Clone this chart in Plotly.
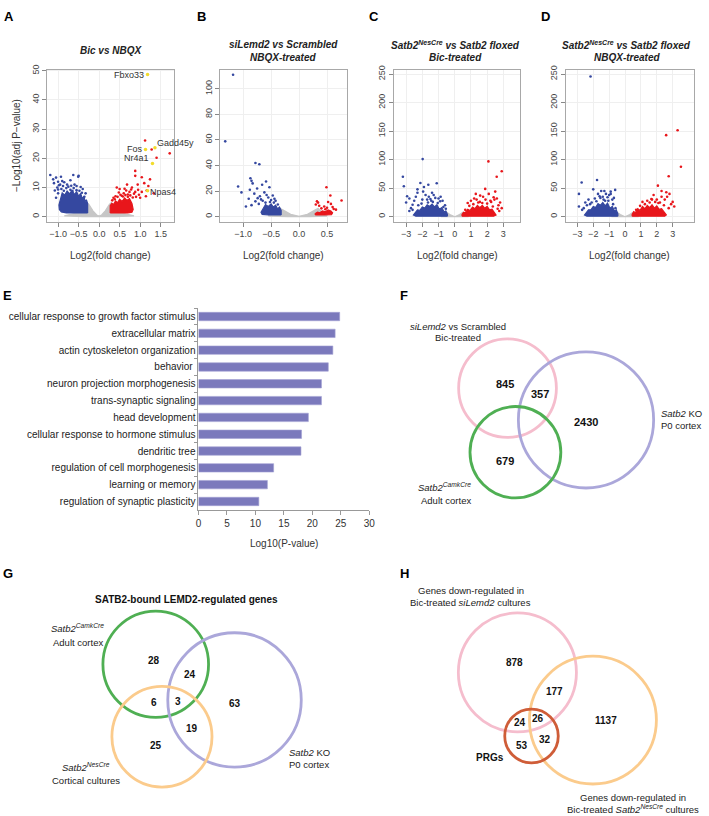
import plotly.graph_objects as go

W, H = 709, 816
FONT = "Liberation Sans, Arial, sans-serif"
BLUE = "#3548A0"
RED = "#E8161B"
GRAY = "#C6C6C6"
YELLOW = "#F2DC2C"

# ---------------- Panel A : Bic vs NBQX ----------------
A_GRAY_CLOUD_FC = [-0.85, -0.5, -0.3, -0.25, -0.15, -0.06, 0.0, 0.06, 0.15, 0.25, 0.3, 0.5, 0.85, 0.4, -0.4]
A_GRAY_CLOUD_P = [0.3, 1.4, 4.8, 4.2, 2.0, 0.6, 0.2, 0.6, 2.0, 4.2, 4.8, 1.4, 0.3, 0.0, 0.0]
A_BLUE_CLOUD_FC = [-0.28, -0.28, -0.31, -0.34, -0.37, -0.41, -0.45, -0.5, -0.55, -0.6, -0.66, -0.72, -0.78,
                   -0.84, -0.9, -0.95, -0.98, -0.97, -0.92, -0.8, -0.6, -0.4]
A_BLUE_CLOUD_P = [1.3, 4.5, 5.8, 5.2, 7.0, 6.2, 8.0, 7.0, 8.6, 7.6, 9.0, 7.8, 8.8, 7.4, 8.2, 6.0, 4.0, 2.5,
                  1.6, 1.3, 1.3, 1.3]
A_RED_CLOUD_FC = [0.27, 0.27, 0.31, 0.35, 0.4, 0.45, 0.5, 0.56, 0.62, 0.68, 0.74, 0.8, 0.83, 0.8, 0.7, 0.5]
A_RED_CLOUD_P = [1.3, 3.8, 4.6, 4.2, 5.4, 4.8, 6.0, 5.2, 6.4, 5.6, 6.2, 4.5, 2.5, 1.5, 1.3, 1.3]
A_BLUE_FC = [-1.19, -1.05, -0.93, -1.0, -1.1, -0.95, -0.85, -0.63, -0.51, -0.5, -0.7, -0.78, -0.6,
             -0.55, -0.45, -1.02, -0.88, -0.68, -1.08, -1.0, -1.05, -0.4, -0.33, -0.98,
             -0.92, -0.8, -0.7, -0.62, -0.55, -0.48, -0.42, -0.36, -1.0, -0.86, -0.75, -0.65, -0.9, -1.12]
A_BLUE_P = [14.3, 13.4, 13.7, 12.0, 11.5, 11.0, 11.8, 14.3, 13.7, 14.0, 12.5, 11.0, 11.0,
            10.5, 10.2, 10.0, 10.5, 10.6, 9.0, 8.0, 6.5, 9.5, 8.0, 10.8,
            9.5, 9.8, 9.2, 9.8, 9.1, 8.9, 8.2, 6.8, 9.3, 8.9, 10.3, 8.8, 12.2, 12.8]
A_RED_FC = [1.12, 1.72, 1.40, 1.28, 0.88, 1.04, 0.88, 0.80, 0.43, 0.50, 1.16, 1.33, 1.04, 0.74, 0.66,
            1.14, 0.97, 0.6, 0.55, 0.7, 0.9, 1.0, 0.85, 0.4, 0.35, 1.2, 0.95,
            0.45, 0.52, 0.58, 0.64, 0.70, 0.76, 0.82, 0.88, 0.32, 0.38, 0.48, 0.62, 0.78, 0.94, 1.1,
            1.24, 0.68]
A_RED_P = [26.1, 21.7, 20.2, 23.0, 15.7, 13.5, 14.0, 10.0, 10.0, 9.5, 9.0, 8.0, 8.5, 8.5, 9.0,
           7.0, 7.5, 8.0, 7.2, 7.6, 6.8, 6.5, 7.9, 7.0, 6.5, 10.5, 9.2,
           6.8, 7.5, 6.9, 7.4, 6.8, 7.3, 6.6, 8.5, 5.6, 6.0, 8.3, 9.6, 9.3, 11.0, 11.5, 12.8, 11.0]
A_GENES = ["Fbxo33", "Fos", "Gadd45y", "Nr4a1", "Npas4"]
A_GENE_FC = [1.18, 1.13, 1.36, 1.30, 1.18]
A_GENE_P = [48.7, 23.0, 23.6, 18.2, 8.9]

# ---------------- Panel B : siLemd2 vs Scrambled, NBQX ----------------
B_GRAY_CLOUD_FC = [-0.55, -0.36, -0.3, -0.15, 0.0, 0.15, 0.3, 0.34, 0.5, 0.2, -0.2]
B_GRAY_CLOUD_P = [0.5, 7.0, 5.5, 1.8, 0.3, 1.8, 5.5, 6.5, 0.5, 0.0, 0.0]
B_BLUE_CLOUD_FC = [-0.32, -0.32, -0.35, -0.38, -0.42, -0.46, -0.5, -0.55, -0.6, -0.65, -0.68, -0.66, -0.55]
B_BLUE_CLOUD_P = [1.3, 5.0, 7.5, 6.0, 9.0, 7.5, 10.0, 8.0, 9.5, 6.0, 3.5, 1.8, 1.3]
B_RED_CLOUD_FC = [0.29, 0.29, 0.33, 0.37, 0.42, 0.47, 0.52, 0.57, 0.6, 0.58, 0.45]
B_RED_CLOUD_P = [1.3, 2.5, 3.6, 3.0, 4.5, 3.8, 5.2, 4.5, 3.0, 1.5, 1.3]
B_BLUE_FC = [-1.18, -1.32, -0.78, -0.71, -0.87, -0.85, -0.83, -1.09, -1.03, -0.59, -0.53, -0.75, -0.8,
             -0.7, -0.62, -0.55, -0.9, -0.78, -0.65, -0.5, -0.45, -0.72, -0.85, -0.95, -0.58, -0.66,
             -0.88, -0.47, -0.42, -0.38, -0.52, -0.6, -0.68, -0.74, -0.44]
B_BLUE_P = [111, 58.9, 42, 41, 30, 28, 26, 23.6, 19, 27.5, 23, 22, 18, 16, 19, 15, 14, 12, 12.5, 13, 11,
            10, 9, 8, 17, 25, 21, 16.5, 12.5, 9.5, 11.5, 11.0, 13.5, 14.5, 14.0]
B_RED_FC = [0.49, 0.56, 0.76, 0.57, 0.32, 0.34, 0.45, 0.5, 0.6, 0.4, 0.62, 0.36, 0.52, 0.66, 0.3, 0.47]
B_RED_P = [23, 16.6, 12.7, 10, 12, 11, 8, 7, 7.5, 6.5, 6, 8.5, 11.5, 5.5, 9.5, 5.8]

# ---------------- Panel C : Satb2 NesCre vs floxed, Bic ----------------
C_GRAY_CLOUD_FC = [-0.85, -0.5, -0.3, 0.0, 0.3, 0.5, 0.85]
C_GRAY_CLOUD_P = [0.0, 8.0, 4.0, 0.0, 4.0, 8.0, 0.0]
C_BLUE_CLOUD_FC = [-0.45, -0.45, -0.55, -0.65, -0.8, -0.95, -1.1, -1.25, -1.4, -1.55, -1.7, -1.85, -2.0,
                   -2.15, -2.3, -2.45, -2.55, -2.4, -1.6, -0.8]
C_BLUE_CLOUD_P = [1, 4, 10, 8, 16, 13, 21, 17, 22, 18, 21, 15, 17, 11, 12, 6, 3, 1, 0.5, 0.5]
C_RED_CLOUD_FC = [0.45, 0.45, 0.55, 0.65, 0.8, 0.95, 1.1, 1.25, 1.4, 1.55, 1.7, 1.85, 2.0, 2.15, 2.3, 2.45,
                  2.55, 2.4, 1.6, 0.8]
C_RED_CLOUD_P = [1, 4, 8, 7, 13, 11, 17, 14, 20, 16, 20, 15, 18, 12, 13, 7, 3, 1, 0.5, 0.5]
C_BLUE_FC = [-1.98, -3.2, -3.14, -2.12, -1.63, -1.11, -1.9, -2.3, -2.94, -2.8, -3.0, -2.6, -2.3, -1.4,
             -1.3, -0.87, -1.95, -1.6, -1.0, -0.75, -2.0, -2.5, -1.7, -1.2, -2.7, -2.8, -0.6, -0.9,
             -2.4, -1.8, -1.5, -1.05, -1.35, -1.65, -2.05, -2.25, -0.7, -0.55, -2.6, -1.45]
C_BLUE_P = [101, 70, 53.5, 59, 56, 58.7, 52, 48, 36, 32, 25, 21, 42, 42, 38, 35, 44, 35, 32, 28, 30, 28,
            30, 33, 15, 10, 20, 27, 35, 38, 31, 24, 26, 25, 23, 20, 17, 14, 12, 28]
C_RED_FC = [2.08, 2.9, 2.59, 1.88, 2.5, 1.57, 1.3, 2.4, 2.7, 2.25, 1.55, 2.1, 1.9, 1.0, 2.2, 2.6, 1.2,
            0.8, 2.8, 2.45, 1.75, 2.9, 0.9, 1.15, 1.45, 1.7, 2.0, 2.35, 2.65, 0.65, 1.35, 2.75]
C_RED_P = [97, 79.6, 70, 48.8, 44, 37, 40, 34, 20, 26, 26, 40, 30, 28, 28, 32, 32, 24, 25, 30, 35, 15,
           19, 22, 25, 24, 23, 18, 14, 12, 30, 10]

# ---------------- Panel D : Satb2 NesCre vs floxed, NBQX ----------------
D_GRAY_CLOUD_FC = [-0.85, -0.5, -0.3, 0.0, 0.3, 0.5, 0.85]
D_GRAY_CLOUD_P = [0.0, 8.0, 4.0, 0.0, 4.0, 8.0, 0.0]
D_BLUE_CLOUD_FC = [-0.45, -0.45, -0.55, -0.65, -0.8, -0.95, -1.1, -1.25, -1.4, -1.55, -1.7, -1.85, -2.0,
                   -2.15, -2.3, -2.45, -2.55, -2.4, -1.6, -0.8]
D_BLUE_CLOUD_P = [1, 5, 12, 9, 18, 15, 24, 19, 25, 20, 23, 16, 18, 12, 12, 6, 3, 1, 0.5, 0.5]
D_RED_CLOUD_FC = [0.45, 0.45, 0.55, 0.65, 0.8, 0.95, 1.1, 1.25, 1.4, 1.55, 1.7, 1.85, 2.0, 2.15, 2.3, 2.45,
                  2.6, 2.5, 1.6, 0.8]
D_RED_CLOUD_P = [1, 4, 9, 7, 14, 11, 18, 14, 20, 16, 21, 15, 19, 13, 14, 8, 3, 1, 0.5, 0.5]
D_BLUE_FC = [-2.17, -2.73, -2.9, -1.76, -2.0, -1.3, -0.9, -0.7, -2.9, -2.2, -2.5, -0.62, -1.2, -1.5,
             -1.0, -1.6, -1.1, -0.8, -1.9, -2.3, -1.4, -0.9, -2.6, -1.7, -1.25, -0.6, -0.75, -1.05,
             -1.35, -1.8, -2.1, -2.4, -2.7, -1.55]
D_BLUE_P = [246, 60, 40, 64.5, 48, 45, 40, 33, 18, 22, 25, 47, 40, 45, 38, 36, 34, 30, 32, 30, 35, 44,
            15, 40, 28, 15, 22, 28, 30, 27, 25, 20, 12, 33]
D_RED_FC = [2.59, 3.31, 3.52, 2.75, 2.07, 2.6, 2.8, 2.3, 1.66, 3.0, 2.3, 2.0, 1.8, 2.5, 1.4, 2.2, 2.9,
            1.1, 1.9, 2.65, 0.7, 0.95, 1.25, 1.55, 2.1, 2.45, 2.75, 1.7, 3.1]
D_RED_P = [143, 151.6, 87.6, 71, 54.5, 43, 40, 45, 31, 26, 35, 30, 38, 30, 28, 25, 22, 26, 26, 35,
           12, 19, 22, 25, 24, 20, 15, 30, 18]

# ---------------- Panel E : GO terms ----------------
GO_TERMS = ["cellular response to growth factor stimulus", "extracellular matrix",
            "actin cytoskeleton organization", "behavior ", "neuron projection morphogenesis",
            "trans-synaptic signaling", "head development", "cellular response to hormone stimulus",
            "dendritic tree", "regulation of cell morphogenesis", "learning or memory",
            "regulation of synaptic plasticity"]
GO_LOGP = [24.8, 24.0, 23.6, 22.8, 21.6, 21.6, 19.3, 18.1, 18.0, 13.2, 12.1, 10.6]
GO_TICKS = [0, 5, 10, 15, 20, 25, 30]

# ---------------- Venn counts ----------------
F_COUNTS = [845, 357, 2430, 679]
G_COUNTS = [28, 24, 6, 3, 63, 19, 25]
H_COUNTS = [878, 177, 1137, 24, 26, 53, 32]

fig = go.Figure()
annotations = []
shapes = []


def px(x):
    return x / W


def py(y):
    return 1 - y / H


def note(x, y, text, size=9.5, color="#222", xanchor="center", angle=0, ref=None):
    d = dict(text=text, showarrow=False, font=dict(family=FONT, size=size, color=color),
             xanchor=xanchor, yanchor="middle", textangle=angle, borderpad=0)
    if ref is None:
        d.update(x=px(x), y=py(y), xref="paper", yref="paper")
    else:
        d.update(x=x, y=y, xref=ref[0], yref=ref[1])
    annotations.append(d)


PLOT_TOP, PLOT_BOT = 65, 218
panels = [
    dict(i=1, l=45, r=173, xr=[-1.26, 1.82], yr=[-1.7, 50.4],
         xt=[-1.0, -0.5, 0.0, 0.5, 1.0, 1.5], xtt=["\u22121.0", "\u22120.5", "0.0", "0.5", "1.0", "1.5"],
         yt=[0, 10, 20, 30, 40, 50],
         gray=(A_GRAY_CLOUD_FC, A_GRAY_CLOUD_P), bc=(A_BLUE_CLOUD_FC, A_BLUE_CLOUD_P),
         rc=(A_RED_CLOUD_FC, A_RED_CLOUD_P), bp=(A_BLUE_FC, A_BLUE_P), rp=(A_RED_FC, A_RED_P)),
    dict(i=2, l=220, r=348, xr=[-1.41, 0.85], yr=[-3.9, 115],
         xt=[-1.0, -0.5, 0.0, 0.5], xtt=["\u22121.0", "\u22120.5", "0.0", "0.5"],
         yt=[0, 20, 40, 60, 80, 100],
         gray=(B_GRAY_CLOUD_FC, B_GRAY_CLOUD_P), bc=(B_BLUE_CLOUD_FC, B_BLUE_CLOUD_P),
         rc=(B_RED_CLOUD_FC, B_RED_CLOUD_P), bp=(B_BLUE_FC, B_BLUE_P), rp=(B_RED_FC, B_RED_P)),
    dict(i=3, l=396, r=524, xr=[-3.75, 4.05], yr=[-8.7, 258],
         xt=[-3, -2, -1, 0, 1, 2, 3], xtt=["\u22123", "\u22122", "\u22121", "0", "1", "2", "3"],
         yt=[0, 50, 100, 150, 200, 250],
         gray=(C_GRAY_CLOUD_FC, C_GRAY_CLOUD_P), bc=(C_BLUE_CLOUD_FC, C_BLUE_CLOUD_P),
         rc=(C_RED_CLOUD_FC, C_RED_CLOUD_P), bp=(C_BLUE_FC, C_BLUE_P), rp=(C_RED_FC, C_RED_P)),
    dict(i=4, l=570, r=700, xr=[-3.73, 4.35], yr=[-8.7, 258],
         xt=[-3, -2, -1, 0, 1, 2, 3], xtt=["\u22123", "\u22122", "\u22121", "0", "1", "2", "3"],
         yt=[0, 50, 100, 150, 200, 250],
         gray=(D_GRAY_CLOUD_FC, D_GRAY_CLOUD_P), bc=(D_BLUE_CLOUD_FC, D_BLUE_CLOUD_P),
         rc=(D_RED_CLOUD_FC, D_RED_CLOUD_P), bp=(D_BLUE_FC, D_BLUE_P), rp=(D_RED_FC, D_RED_P)),
]

for p in panels:
    i = p["i"]
    xa = "x" if i == 1 else f"x{i}"
    ya = "y" if i == 1 else f"y{i}"
    for key, col in (("gray", GRAY), ("bc", BLUE), ("rc", RED)):
        xs, ys = p[key]
        fig.add_trace(go.Scatter(x=list(xs) + [xs[0]], y=list(ys) + [ys[0]], mode="lines", fill="toself",
                                 fillcolor=col, line=dict(color=col, width=1.2), xaxis=xa, yaxis=ya,
                                 hoverinfo="skip", showlegend=False))
    for key, col in (("bp", BLUE), ("rp", RED)):
        xs, ys = p[key]
        fig.add_trace(go.Scatter(x=xs, y=ys, mode="markers", marker=dict(color=col, size=2.6),
                                 xaxis=xa, yaxis=ya, showlegend=False))
    axcommon = dict(showline=True, mirror=True, linecolor="#A8A8A8", linewidth=1, ticks="outside",
                    ticklen=4, tickcolor="#888", showgrid=True, gridcolor="#EFEFEF", zeroline=False,
                    tickfont=dict(family=FONT, size=9, color="#444"))
    fig.update_layout(**{
        ("xaxis" if i == 1 else f"xaxis{i}"): dict(domain=[px(p["l"]), px(p["r"])], range=p["xr"],
                                                  tickvals=p["xt"], ticktext=p["xtt"], anchor=ya, **axcommon),
        ("yaxis" if i == 1 else f"yaxis{i}"): dict(domain=[py(PLOT_BOT), py(PLOT_TOP)], range=p["yr"],
                                                  tickvals=p["yt"], tickangle=-90, anchor=xa, **axcommon),
    })

# yellow genes panel A
fig.add_trace(go.Scatter(x=A_GENE_FC, y=A_GENE_P, mode="markers", marker=dict(color=YELLOW, size=3.5),
                         xaxis="x", yaxis="y", showlegend=False))
label_pos = {"Fbxo33": (-0.05, 0, "right"), "Fos": (-0.03, 0.2, "right"), "Gadd45y": (0.02, 1.6, "left"),
             "Nr4a1": (-0.05, 1.8, "right"), "Npas4": (0.03, -0.3, "left")}
for g, fc, pv in zip(A_GENES, A_GENE_FC, A_GENE_P):
    dx, dy, anc = label_pos[g]
    note(fc + dx, pv + dy, g, size=9, color="#333", xanchor=anc, ref=("x", "y"))

# volcano titles
note(109, 46, "<b><i>Bic vs NBQX</i></b>", size=10)
note(284, 40, "<b><i>siLemd2 vs Scrambled</i></b>", size=10)
note(284, 53, "<b><i>NBQX-treated</i></b>", size=10)
note(458, 40, "<b><i>Satb2<sup>NesCre</sup> vs Satb2 floxed</i></b>", size=10)
note(458, 53, "<b><i>Bic-treated</i></b>", size=10)
note(632, 40, "<b><i>Satb2<sup>NesCre</sup> vs Satb2 floxed</i></b>", size=10)
note(632, 53, "<b><i>NBQX-treated</i></b>", size=10)
for cx in (109, 284, 460, 635):
    note(cx, 252, "Log2(fold change)", size=10, color="#333")
note(13, 141, "\u2212Log10(adj P\u2212value)", size=10, color="#333", angle=-90)

# ---------------- Panel E bars ----------------
fig.add_trace(go.Bar(x=GO_LOGP, y=GO_TERMS, orientation="h", width=0.5,
                     marker=dict(color="#7B79BC", line=dict(color="#A3A1D3", width=0.6)),
                     xaxis="x5", yaxis="y5", showlegend=False))
fig.update_layout(
    xaxis5=dict(domain=[px(198), px(371)], range=[0, 30], tickvals=GO_TICKS, anchor="y5",
                showline=True, linecolor="#999", ticks="outside", ticklen=4, tickcolor="#999",
                showgrid=False, zeroline=False, tickfont=dict(family=FONT, size=10, color="#333")),
    yaxis5=dict(domain=[py(508), py(305)], type="category", categoryarray=GO_TERMS,
                range=[11.5, -0.5], anchor="x5", showline=True, linecolor="#999", ticks="outside",
                tickson="boundaries", ticklen=3, tickcolor="#999", showgrid=False,
                tickfont=dict(family=FONT, size=10, color="#222")),
)
note(285, 542, "Log10(P-value)", size=10, color="#333")

# ---------------- Venn diagrams ----------------
def circle(cx, cy, r, color, width=2.8):
    shapes.append(dict(type="circle", xref="paper", yref="paper", x0=px(cx - r), x1=px(cx + r),
                       y0=py(cy + r), y1=py(cy - r), line=dict(color=color, width=width)))


PINK, PURPLE, GREEN, ORANGE, DARKRED = "#F5BDCD", "#ABA7DA", "#4FAF53", "#FBCB8C", "#CF5D38"

# F
circle(511, 385.5, 49.5, PINK)
circle(590.5, 417.5, 68.5, PURPLE)
circle(519, 450, 46, GREEN)
for (x, y), v in zip([(508, 381), (544, 391), (591, 420), (508, 459)], F_COUNTS):
    note(x, y, f"<b>{v}</b>", size=11, color="#111")
note(461, 323, "<i>siLemd2</i> vs Scrambled", size=9.5)
note(461, 334.5, "Bic-treated", size=9.5)
note(665, 410.7, "<i>Satb2</i> KO", size=9.5, xanchor="left")
note(665, 422.7, "P0 cortex", size=9.5, xanchor="left")
note(447.5, 485, "<i>Satb2<sup>CamkCre</sup></i>", size=9.5)
note(448.5, 498.7, "Adult cortex", size=9.5)

# G
note(186, 598, "<b>SATB2-bound LEMD2-regulated genes</b>", size=10, color="#111")
circle(154.7, 663.3, 53.5, GREEN)
circle(234.5, 699.2, 67.6, PURPLE)
circle(161, 736.2, 50.7, ORANGE)
for (x, y), v in zip([(153, 660), (189, 673.5), (153, 702), (177, 701), (234.5, 702.5), (191, 727.5),
                      (154.5, 745)], G_COUNTS):
    note(x, y, f"<b>{v}</b>", size=10, color="#111")
note(75.5, 627, "<i>Satb2<sup>CamkCre</sup></i>", size=9.5)
note(76, 641.7, "Adult cortex", size=9.5)
note(289, 751.7, "<i>Satb2</i> KO", size=9.5, xanchor="left")
note(289, 764, "P0 cortex", size=9.5, xanchor="left")
note(84.5, 767, "<i>Satb2<sup>NesCre</sup></i>", size=9.5)
note(84, 780.7, "Cortical cultures", size=9.5)

# H
note(474.5, 589.3, "Genes down-regulated in", size=9.5)
note(474, 601, "Bic-treated <i>siLemd2</i> cultures", size=9.5)
circle(521, 671.5, 59.8, PINK)
circle(597.5, 719.5, 64.3, ORANGE)
circle(535.3, 735.5, 27.1, DARKRED)
for (x, y), v in zip([(517.7, 661.7), (559, 691), (611, 720), (523.3, 722.3), (542.3, 718.3),
                      (525.7, 745), (549.3, 739)], H_COUNTS):
    note(x, y, f"<b>{v}</b>", size=10, color="#111")
note(493.3, 757.3, "<b>PRGs</b>", size=10, color="#111")
note(638.3, 797, "Genes down-regulated in", size=9.5)
note(638.5, 808.5, "Bic-treated <i>Satb2<sup>NesCre</sup></i> cultures", size=9.5)

# panel letters
for (x, y), L in zip([(6, 12), (201, 12), (376, 12), (549, 12), (5, 292), (406, 292), (5, 572), (406.5, 572)],
                     "ABCDEFGH"):
    note(x, y, f"<b>{L}</b>", size=13, color="#000")

fig.update_layout(width=W, height=H, autosize=False, margin=dict(l=0, r=0, t=0, b=0),
                  paper_bgcolor="white", plot_bgcolor="white", showlegend=False,
                  annotations=annotations, shapes=shapes, font=dict(family=FONT))
fig.write_html("out.html", config={"displayModeBar": False},
               post_script="document.body.style.margin='0px';document.body.style.overflow='hidden';")
